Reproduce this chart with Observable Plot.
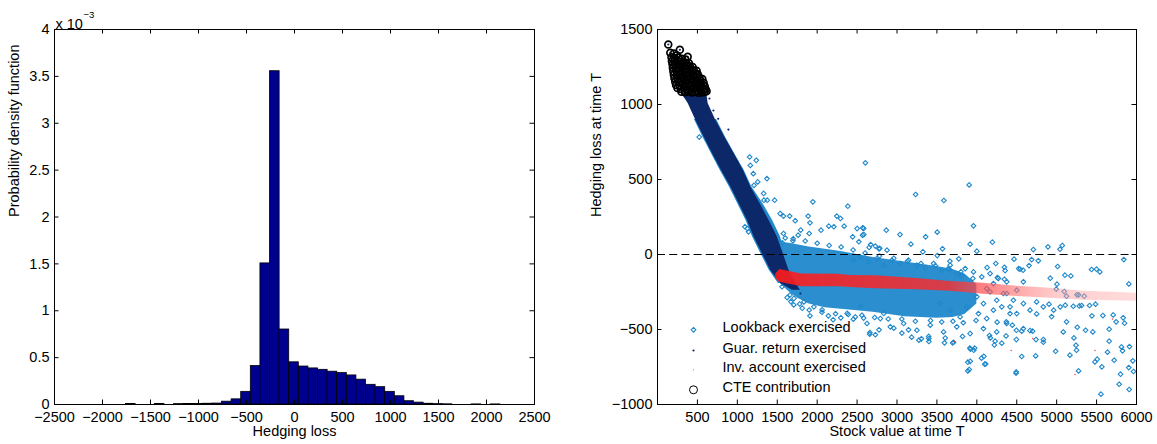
<!DOCTYPE html>
<html><head><meta charset="utf-8">
<script src="https://cdn.jsdelivr.net/npm/d3@7"></script>
<script src="https://cdn.jsdelivr.net/npm/@observablehq/plot@0.6"></script>
<style>
body{margin:0;background:#fff;}
#wrap{position:relative;width:1157px;height:444px;overflow:hidden;}
#left,#right{position:absolute;top:0;}
#left{left:0;} #right{left:578px;}
</style></head><body>
<div id="wrap"><div id="left"></div><div id="right"></div></div>
<script>
// ================= DATA =================
// Left panel: histogram of hedging loss (density in units of 1e-3)
const histCenters = [-1705,-1405,-1205,-1105,-1005,-905,-805,-705,-605,-505,-405,-305,-205,-105,-5,95,195,295,395,495,595,695,795,895,995,1095,1195,1295,1395,1495,1595,1895,2095];
const histDensityE3 = [0.006,0.005,0.004,0.005,0.006,0.008,0.01,0.03,0.055,0.135,0.41,1.505,3.555,0.8,0.45,0.405,0.385,0.37,0.35,0.335,0.31,0.265,0.21,0.185,0.135,0.088,0.035,0.02,0.008,0.004,0.002,0.001,0.001];
const binWidth = 100;
const histXTicks = [-2500,-2000,-1500,-1000,-500,0,500,1000,1500,2000,2500];
const histYTicks = [0,0.5,1,1.5,2,2.5,3,3.5,4];

// Right panel: scatter (stock value at T, hedging loss at T)
const scatXTicks = [500,1000,1500,2000,2500,3000,3500,4000,4500,5000,5500,6000];
const scatYTicks = [-1000,-500,0,500,1000,1500];

// dense lookback cloud envelope (x, lower, upper)
const massX  = [1380,1450,1550,1650,1750,1900,2100,2300,2500,2700,2900,3100,3300,3500,3700,3850,4000];
const massLo = [-30,-120,-200,-250,-290,-330,-355,-365,-375,-385,-400,-415,-420,-425,-420,-400,-330];
const massHi = [40,70,80,75,65,50,35,20,0,-20,-35,-50,-65,-80,-100,-130,-200];
// lookback fringe along the guaranteed-return band (y, left, right)
const fringeY  = [900,784,673,562,451,340,229,118,7,-105,-193];
const fringeXL = [462,568,675,785,900,1004,1108,1190,1294,1400,1515];
const fringeXR = [740,850,965,1085,1180,1320,1440,1540,1600,1660,1740];
// guaranteed-return dense band (y, left, right)
const navyY  = [1075,1006,895,784,673,562,451,340,229,118,7,-105,-193,-238];
const navyXL = [300,384,480,584,688,800,917,1021,1125,1209,1313,1417,1542,1690];
const navyXR = [617,634,730,842,959,1075,1167,1284,1396,1500,1575,1646,1730,1792];
// investment-account band (x, lower, upper)
const invX  = [1480,1532,1808,2267,2416,2728,3249,3666,4083,4500,4916,5333,5700,6000];
const invLo = [-160,-185,-215,-215,-220,-228,-235,-245,-265,-280,-292,-305,-308,-312];
const invHi = [-130,-100,-130,-132,-140,-142,-160,-180,-192,-212,-225,-245,-252,-258];

// individually visible lookback points
const lookbackPts = [
[523,783],[1163,594],[1237,628],[1154,650],[1371,506],[1255,484],[1200,539],[1209,461],[1334,362],[1375,362],[1467,362],[1329,407],
[1946,351],[2384,322],[2604,611],[1656,256],[1725,225],[1887,256],[1910,211],[2246,256],[2292,240],[2338,189],[2582,174],[2500,173],[2584,133],
[2209,185],[2146,189],[2048,162],[1900,140],[1762,129],[1578,140],[2444,118],[2568,129],[1140,151],[1094,185],[1186,163],[1125,173],[1259,129],
[1578,256],[1536,273],[1794,163],[1696,91],[1563,78],[1425,95],[2522,85],[2729,56],[2784,41],[2651,47],[2875,29],
[3904,464],[3233,400],[3587,360],[3958,191],[2866,162],[3504,149],[2570,178],[3358,118],[3037,133],[4195,82],[3174,69],[3916,69],[3570,38],[2774,38],[2670,66],[3324,18],[4000,22],[4708,33],[4891,51],[5041,35],[5070,60],[3504,-7],
[5841,-34],[5437,-100],[5541,-116],[5178,-143],[4920,-158],[5012,-80],[4687,-34],[4770,-42],[4524,-94],[4579,-105],[4354,-107],[4258,-154],[4128,-87],[5904,-196],[4583,-182],[4345,-165],[5004,-198],[4995,-231],[5095,-247],[5275,-269],[5124,-278],[5312,-340],[5412,-340],[5487,-331],[4904,-331],[5108,-338],[5045,-349],[5208,-345],[4962,-371],[4749,-396],[4937,-414],[5708,-403],[5579,-407],[5441,-409],[5833,-422],[5745,-449],[5850,-458],[5362,-505],[5453,-516],[5658,-498],[5124,-449],[5258,-485],[5083,-516],[4699,-511],[4741,-567],[4833,-567],[4495,-567],[4987,-645],[4833,-585],[5216,-556],[5241,-605],[5249,-638],[5166,-671],[5274,-776],[5658,-578],[5812,-616],[5825,-642],[5912,-614],[5954,-709],[5904,-754],[5962,-780],[5479,-716],[5508,-698],[5566,-749],[5637,-651],[5720,-705],[5800,-798],[5783,-865],[5908,-900],[5554,-931],[4491,-791],[4562,-680],[4737,-676],[4099,-731],[4058,-691],[3887,-718],[3887,-776],[3920,-631],[3962,-638],[3595,-589],[3708,-585],[3399,-580],[3399,-560],[3274,-571],[3183,-551],[2658,-531],[4229,-578],[4220,-603],[4312,-591],[4158,-540],[4170,-556],[4366,-543],[4495,-505],[4583,-494],[4666,-507],[4562,-511],[4445,-471],[4370,-449],[4254,-451],
[3804,-145],[3662,-45],[3774,-29],[3666,-105],[4237,-60],[4345,-85],[4466,-31],[4541,-98],[4654,-74],[5499,-98],[5103,-138],[5345,-278],[5254,-269],[5283,-343],
[2140,-409],[2200,-435],[2296,-422],[2453,-431],[2660,-520],[2775,-502],[2729,-535],[2582,-424],[1910,-409],[1813,-358],[2062,-369],[1707,-336],[1670,-314],[1624,-287],[3397,-546],[3305,-562],[3061,-524],[2960,-491],[3144,-502],[3604,-557],[3821,-546],[3913,-624],[3973,-624],[3917,-712],[3904,-767],[4088,-679],[4111,-730],[3697,-590],[4494,-783],[2375,-393],[2542,-344],[2834,-393],[1959,-349],[1834,-316],[1709,-293],
[2458,-38],[2541,-16],[2645,-49],[2749,-27],[2833,-71],[2937,-38],[3041,-60],[3145,-38],[3249,-71],[3354,-87],[3458,-60],[3562,-105],[3666,-71],[3749,-127],[3854,-94],[3958,-116],[4062,-149],[4166,-127],[4270,-160],[4374,-182],
[2478,-416],[2624,-460],[2791,-427],[2916,-482],[3083,-460],[3249,-505],[3416,-471],[3583,-516],[3749,-482],[3916,-527],[4083,-494],[4249,-516],[4374,-460],[4416,-394],[4312,-349],[4208,-371],[4458,-305],[4500,-238],[4374,-260],
[3916,-238],[4000,-282],[4083,-327],[4166,-249],[4249,-305],[4333,-260],[4020,-394],[4124,-427],[3874,-349],[3791,-416],[3666,-371],[3541,-327],[4416,-349],[4500,-394],[4583,-327],[4666,-371],[4749,-316],[4833,-349],[4208,-194],[4124,-227],
[3990,-440],[3830,-455],[3700,-445],[3560,-450],[3420,-440],[3230,-445],[3060,-430],[2890,-430],[2720,-420],[2560,-405],[2390,-400],[2230,-395],[2060,-385],[1900,-370],[1780,-330],[1660,-270],[1560,-215],
[1480,60],[1600,110],[1700,105],[1850,90],[2000,75],[2150,60],[2300,50],[2450,30],[2600,10],[2780,-10],[2960,-25],[3130,-45],[3300,-60],[3480,-75],[3640,-95],[3800,-115],[3950,-160]
];
// individually visible guaranteed-return points
const guarPts = [[888,833],[700,960],[760,905],[1000,620],[1180,420],[1240,330],[1420,120],[1560,-20],[1610,-90],[1700,-170],[1760,-200],[1790,-260],[650,1040],[560,1060],[1105,505],[1330,220],[1480,40],[1650,-140],[470,950],[560,860]];
// individually visible investment-account points
const invPts = [[3717,-580],[4430,-640],[5230,-800],[5480,-640],[4700,-560],[5700,-430]];
// CTE contribution points (largest losses)
const ctePts = [
[135,1400],[280,1365],[160,1345],[205,1340],[240,1328],
[175,1315],[215,1310],[262,1312],[305,1305],[350,1300],[378,1318],
[180,1290],[212,1288],[248,1292],[283,1285],[320,1282],[358,1278],[395,1275],
[188,1268],[222,1265],[258,1270],[292,1262],[330,1260],[368,1258],[405,1255],[440,1250],
[192,1245],[230,1240],[265,1248],[302,1240],[342,1236],[380,1238],[418,1232],[455,1228],[490,1225],
[198,1222],[240,1218],[275,1225],[312,1215],[352,1212],[392,1218],[432,1210],[470,1206],[505,1202],
[205,1198],[245,1195],[288,1200],[325,1192],[365,1190],[405,1195],[445,1188],[485,1185],[525,1180],
[212,1175],[252,1170],[295,1176],[335,1168],[375,1165],[418,1172],[458,1164],[498,1162],[538,1158],[562,1170],
[222,1152],[262,1148],[305,1154],[345,1145],[388,1142],[428,1150],[468,1140],[510,1138],[548,1135],[578,1145],
[232,1130],[275,1126],[318,1132],[358,1122],[398,1120],[440,1128],[480,1118],[520,1115],[558,1112],[592,1122],
[250,1110],[292,1104],[335,1108],[375,1100],[415,1098],[455,1105],[495,1096],[535,1093],[572,1098],[604,1102],
[300,1085],[345,1082],[390,1086],[430,1080],[470,1084],[512,1078],[552,1080],[590,1084],[615,1088]
];
const legendLabels = ["Lookback exercised","Guar. return exercised","Inv. account exercised","CTE contribution"];

// ================= STYLE =================
const FONT = "'Liberation Sans', Arial, Helvetica, sans-serif";
const FS = 14.5;
const fmt = d => d < 0 ? "\u2212" + Math.abs(d) : String(d);
const C_BAR = "#00008f", C_LB = "#1f88cb", C_NAVY = "#0d2869";

// ================= LEFT =================
const hist = histCenters.map((c, i) => ({c, v: histDensityE3[i]}));
const L = {w: 578, h: 444, ml: 54, mr: 44, mt: 29, mb: 40};
const lpw = L.w - L.ml - L.mr, lph = L.h - L.mt - L.mb;
const leftPlot = Plot.plot({
  width: L.w, height: L.h, marginLeft: L.ml, marginRight: L.mr, marginTop: L.mt, marginBottom: L.mb,
  style: {fontFamily: FONT, fontSize: FS + "px", color: "#000", background: "transparent", overflow: "visible"},
  x: {domain: [-2500, 2500], ticks: histXTicks, tickSize: 0, tickPadding: 7, tickFormat: fmt, label: null},
  y: {domain: [0, 4], ticks: histYTicks, tickSize: 0, tickPadding: 5, tickFormat: fmt, label: null},
  marks: [
    Plot.rect(hist, {x1: d => d.c - binWidth / 2, x2: d => d.c + binWidth / 2, y1: 0, y2: "v", fill: C_BAR, stroke: "#000", strokeWidth: 0.8}),
    Plot.tickX(histXTicks, {x: d => d, insetTop: lph - 4.5, stroke: "#000"}),
    Plot.tickX(histXTicks, {x: d => d, insetBottom: lph - 4.5, stroke: "#000"}),
    Plot.tickY(histYTicks, {y: d => d, insetRight: lpw - 4.5, stroke: "#000"}),
    Plot.tickY(histYTicks, {y: d => d, insetLeft: lpw - 4.5, stroke: "#000"}),
    Plot.frame({stroke: "#000"}),
    Plot.text(["Hedging loss"], {text: d => d, frameAnchor: "bottom", dy: 31.5, fontSize: FS}),
    Plot.text(["Probability density function"], {text: d => d, frameAnchor: "left", dx: -40, rotate: -90, fontSize: FS}),
    Plot.text(["x 10"], {text: d => d, frameAnchor: "top-left", textAnchor: "start", dx: 1, dy: -11, fontSize: FS}),
    Plot.text(["\u22123"], {text: d => d, frameAnchor: "top-left", textAnchor: "start", dx: 29, dy: -18, fontSize: 9.5})
  ]
});
document.getElementById("left").appendChild(leftPlot);

// ================= RIGHT =================
const R = {w: 579, h: 444, ml: 79, mr: 21, mt: 29, mb: 40};
const rpw = R.w - R.ml - R.mr, rph = R.h - R.mt - R.mb;
const mass = massX.map((x, i) => ({x, lo: massLo[i], hi: massHi[i]}));
const fringe = fringeY.map((y, i) => ({y, a: fringeXL[i], b: fringeXR[i]}));
const navy = navyY.map((y, i) => ({y, a: navyXL[i], b: navyXR[i]}));
const inv = invX.map((x, i) => ({x, lo: invLo[i], hi: invHi[i]}));
const rows = [-74.7, -54, -34.7, -14.7];
const legendText = (label, i) => Plot.text([label], {text: d => d, frameAnchor: "bottom-left", textAnchor: "start", dx: 65, dy: rows[i] + 2.5, fontSize: FS});

const rightPlot = Plot.plot({
  width: R.w, height: R.h, marginLeft: R.ml, marginRight: R.mr, marginTop: R.mt, marginBottom: R.mb,
  style: {fontFamily: FONT, fontSize: FS + "px", color: "#000", background: "transparent", overflow: "visible"},
  x: {domain: [0, 6000], ticks: scatXTicks, tickSize: 0, tickPadding: 7, tickFormat: fmt, label: null},
  y: {domain: [-1000, 1500], ticks: scatYTicks, tickSize: 0, tickPadding: 5, tickFormat: fmt, label: null},
  marks: [
    Plot.areaX(fringe, {y: "y", x1: "a", x2: "b", fill: C_LB}),
    Plot.areaY(mass, {x: "x", y1: "lo", y2: "hi", fill: "#2a8ecf"}),
    Plot.dot(lookbackPts, {x: d => d[0], y: d => d[1], symbol: "diamond2", r: 2.1, stroke: C_LB, strokeWidth: 1.1, fill: "none"}),
    Plot.areaX(navy, {y: "y", x1: "a", x2: "b", fill: C_NAVY}),
    Plot.dot(guarPts, {x: d => d[0], y: d => d[1], r: 1.1, fill: C_NAVY}),
    Plot.areaY(inv, {x: "x", y1: "lo", y2: "hi", fill: "url(#invGrad)"}),
    Plot.dot(invPts, {x: d => d[0], y: d => d[1], r: 0.7, fill: "#ff3030"}),
    Plot.ruleY([0], {y: d => d, stroke: "#000", strokeDasharray: "8,4.2", strokeWidth: 1}),
    Plot.dot(ctePts, {x: d => d[0], y: d => d[1], r: 1.1, fill: C_NAVY}),
    Plot.dot(ctePts, {x: d => d[0], y: d => d[1], r: 3.4, stroke: "#000", strokeWidth: 1.7, fill: "none"}),
    Plot.tickX(scatXTicks, {x: d => d, insetTop: rph - 4.5, stroke: "#000"}),
    Plot.tickX(scatXTicks, {x: d => d, insetBottom: rph - 4.5, stroke: "#000"}),
    Plot.tickY(scatYTicks, {y: d => d, insetRight: rpw - 4.5, stroke: "#000"}),
    Plot.tickY(scatYTicks, {y: d => d, insetLeft: rpw - 4.5, stroke: "#000"}),
    Plot.frame({stroke: "#000"}),
    Plot.text(["Stock value at time T"], {text: d => d, frameAnchor: "bottom", dy: 31.5, fontSize: FS}),
    Plot.text(["Hedging loss at time T"], {text: d => d, frameAnchor: "left", dx: -61, rotate: -90, fontSize: FS}),
    // legend
    Plot.dot([0], {frameAnchor: "bottom-left", dx: 36, dy: rows[0], symbol: "diamond2", r: 2.1, stroke: C_LB, strokeWidth: 1.1, fill: "none"}),
    Plot.dot([0], {frameAnchor: "bottom-left", dx: 36, dy: rows[1], r: 1.1, fill: C_NAVY}),
    Plot.dot([0], {frameAnchor: "bottom-left", dx: 36, dy: rows[2], r: 0.6, fill: "#ff6060"}),
    Plot.dot([0], {frameAnchor: "bottom-left", dx: 36, dy: rows[3], r: 4, stroke: "#000", strokeWidth: 1, fill: "none"}),
    ...legendLabels.map(legendText)
  ]
});
d3.select(rightPlot).insert("defs", ":first-child").html(
  '<linearGradient id="invGrad" x1="0" x2="1" y1="0" y2="0">' +
  '<stop offset="0" stop-color="#ff1a1a" stop-opacity="0.9"/>' +
  '<stop offset="0.48" stop-color="#ff2a2a" stop-opacity="0.8"/>' +
  '<stop offset="0.62" stop-color="#ff5a5a" stop-opacity="0.65"/>' +
  '<stop offset="0.78" stop-color="#ff9a9a" stop-opacity="0.5"/>' +
  '<stop offset="1" stop-color="#ffb0b0" stop-opacity="0.45"/>' +
  '</linearGradient>');
document.getElementById("right").appendChild(rightPlot);
</script>
</body></html>
